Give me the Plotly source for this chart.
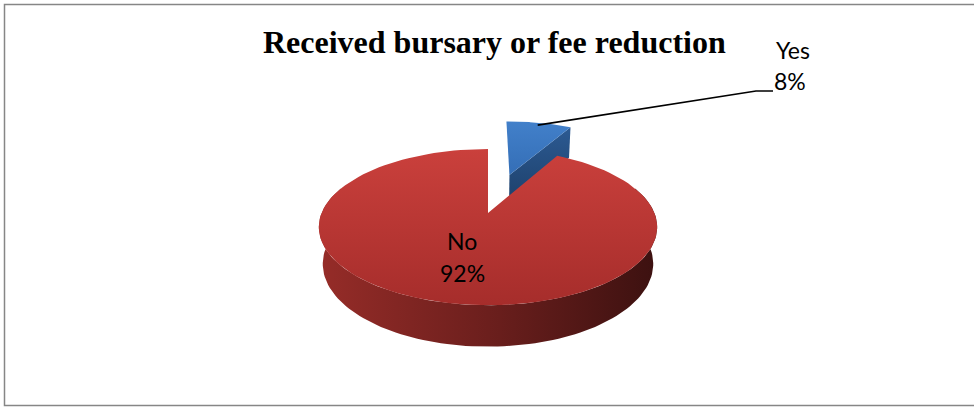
import numpy as np
import plotly.graph_objects as go

# Chart data
title = "Received bursary or fee reduction"
labels = ["Yes", "No"]
shares = [8, 92]
exploded = [True, False]

# Slice palettes: top face (bottom, top), cut face, rim band (left, mid, right)
top_colors = [("rgb(52,110,182)", "rgb(66,128,202)"), ("rgb(166,45,43)", "rgb(202,64,60)")]
cut_colors = [("rgb(28,62,104)", "rgb(44,90,146)"), ("rgb(90,26,24)", "rgb(120,34,32)")]
rim_colors = [("rgb(40,86,140)", "rgb(32,70,118)", "rgb(20,44,76)"),
              ("rgb(150,44,40)", "rgb(108,31,29)", "rgb(60,17,16)")]

W, H = 974, 407

# 3D pie projection (perspective camera tilted down)
CX, CY = 488.0, 213.0          # screen position of pie centre (pixels from top-left)
FOCAL, DIST = 822.0, 4.94
TILT = np.radians(27.0)
THICK = 0.25
EXPLODE = 0.57


def project(X, Y, Z):
    X, Y, Z = np.asarray(X, float), np.asarray(Y, float), np.asarray(Z, float)
    depth = DIST + Y * np.cos(TILT) - Z * np.sin(TILT)
    up = Y * np.sin(TILT) + Z * np.cos(TILT)
    sx = CX + FOCAL * X / depth
    sy = CY - FOCAL * up / depth
    return sx, H - sy          # data y runs upward


def arc(t0, t1, n=120):
    t = np.linspace(t0, t1, n)
    return np.sin(t), np.cos(t)


fractions = np.array(shares, float) / np.sum(shares)
edges = np.concatenate([[0.0], np.cumsum(fractions)]) * 2 * np.pi

fig = go.Figure()


def add_poly(xs, ys, gradient_type, colorscale):
    fig.add_trace(go.Scatter(
        x=np.append(xs, xs[0]), y=np.append(ys, ys[0]), mode="lines",
        line=dict(width=0), fill="toself",
        fillgradient=dict(type=gradient_type, colorscale=colorscale),
        hoverinfo="skip", showlegend=False))


label_anchor = {}

# Draw far (exploded) slices first, then the main body
order = sorted(range(len(shares)), key=lambda i: not exploded[i])
for i in order:
    t0, t1 = edges[i], edges[i + 1]
    mid = 0.5 * (t0 + t1)
    ox, oy = (EXPLODE * np.sin(mid), EXPLODE * np.cos(mid)) if exploded[i] else (0.0, 0.0)

    ax_, ay_ = arc(t0, t1)
    ax_, ay_ = ax_ + ox, ay_ + oy

    # outer rim band (front-facing portion only)
    lo, hi = max(t0, np.pi / 2 - 0.35), min(t1, 3 * np.pi / 2 + 0.35)
    if hi > lo:
        bx, by = arc(lo, hi)
        bx, by = bx + ox, by + oy
        tx, ty = project(bx, by, np.zeros_like(bx))
        dx, dy = project(bx[::-1], by[::-1], np.full_like(bx, -THICK))
        c = rim_colors[i]
        add_poly(np.concatenate([tx, dx]), np.concatenate([ty, dy]), "horizontal",
                 [[0, c[0]], [0.5, c[1]], [1, c[2]]])

    # radial cut face at the trailing edge when the slice is pulled out
    if exploded[i]:
        ex, ey = ox + np.sin(t1), oy + np.cos(t1)
        px, py = project([ox, ex, ex, ox], [oy, ey, ey, oy], [0, 0, -THICK, -THICK])
        c = cut_colors[i]
        add_poly(px, py, "vertical", [[0, c[0]], [1, c[1]]])

    # top face
    fx, fy = project(np.concatenate([[ox], ax_]), np.concatenate([[oy], ay_]),
                     np.zeros(len(ax_) + 1))
    c = top_colors[i]
    add_poly(fx, fy, "vertical", [[0, c[0]], [1, c[1]]])

    r = 0.95 if exploded[i] else 0.32
    label_anchor[i] = project([ox + r * np.sin(mid)], [oy + r * np.cos(mid)], [0.0])

# Labels
font = dict(family="Lato, Calibri, sans-serif", size=23, color="#000000")
annotations = [dict(x=494, y=H - 42, text=f"<b>{title}</b>", showarrow=False,
                    font=dict(family="Liberation Serif, Times New Roman, serif", size=32, color="#000000"),
                    xanchor="center", yanchor="middle")]

for i, (lab, val) in enumerate(zip(labels, shares)):
    if exploded[i]:
        (sx,), (sy,) = label_anchor[i]
        elbow_x, elbow_y, end_x = 756, H - 91, 773
        fig.add_trace(go.Scatter(x=[sx, elbow_x, end_x], y=[sy, elbow_y, elbow_y],
                                 mode="lines", line=dict(color="#000000", width=1.6),
                                 hoverinfo="skip", showlegend=False))
        annotations.append(dict(x=793, y=H - 50, text=lab, showarrow=False, font=font,
                                xanchor="center", yanchor="middle"))
        annotations.append(dict(x=790, y=H - 81, text=f"{val}%", showarrow=False, font=font,
                                xanchor="center", yanchor="middle"))
    else:
        annotations.append(dict(x=462, y=H - 241, text=lab, showarrow=False, font=font,
                                xanchor="center", yanchor="middle"))
        annotations.append(dict(x=462, y=H - 273, text=f"{val}%", showarrow=False, font=font,
                                xanchor="center", yanchor="middle"))

fig.update_layout(
    width=W, height=H,
    margin=dict(l=0, r=0, t=0, b=0),
    paper_bgcolor="#ffffff", plot_bgcolor="#ffffff",
    xaxis=dict(range=[0, W], visible=False, fixedrange=True),
    yaxis=dict(range=[0, H], visible=False, fixedrange=True),
    annotations=annotations,
    shapes=[dict(type="rect", xref="x", yref="y", x0=4.5, y0=H - 4.5, x1=W + 10, y1=H - 405.5,
                 line=dict(color="#868686", width=1.5), fillcolor="rgba(0,0,0,0)", layer="below")],
    hovermode=False,
)

fig.write_html("out.html", config=dict(displayModeBar=False))
